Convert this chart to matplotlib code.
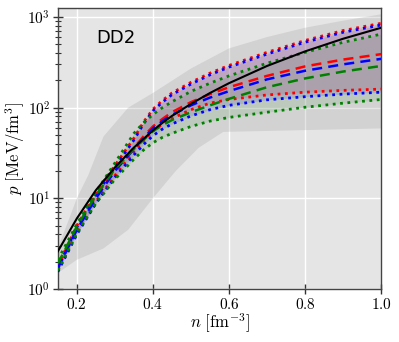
import numpy as np
import matplotlib
matplotlib.use("Agg")
import matplotlib.pyplot as plt
from matplotlib.ticker import LogLocator, NullFormatter, FixedLocator

plt.rcParams['mathtext.fontset'] = 'cm'
plt.rcParams['font.family'] = ['DejaVu Sans']

# ---- data ----
n = [0.15, 0.2, 0.25, 0.3, 0.35, 0.375, 0.4, 0.425, 0.45, 0.5, 0.55, 0.6, 0.7, 0.8, 0.9, 1.0]

dd2 = [2.6, 6.0, 12.3, 21.9, 36.3, 45, 56, 68, 81, 110, 145, 186, 288, 417, 575, 760]

red_up = [1.8, 5.0, 11.5, 23, 46, 69, 96, 120, 145, 190, 240, 292, 407, 550, 708, 851]
blue_up = [1.7, 4.8, 11.0, 22, 44, 66, 92, 115, 139, 182, 230, 280, 390, 527, 678, 815]
green_up = [2.1, 5.2, 11.7, 24.5, 52, 68, 84, 100, 116, 151, 186, 224, 309, 407, 525, 646]

red_med = [1.8, 4.7, 10.5, 21, 36, 48, 62, 75, 89, 115, 141, 168, 224, 285, 339, 389]
blue_med = [1.7, 4.5, 10.0, 20, 35, 46, 59, 71, 83, 106, 129, 152, 205, 255, 300, 345]
green_med = [1.9, 4.9, 10.8, 21, 35, 44, 55, 64, 73, 89, 106, 125, 168, 210, 250, 288]

red_lo = [1.6, 4.2, 9.2, 17.8, 33, 43, 55, 66, 76, 95, 112, 123, 138, 148, 155, 160]
blue_lo = [1.55, 4.0, 8.8, 17, 30, 39, 49, 58, 66, 81, 95, 106, 122, 132, 141, 148]
green_lo = [1.6, 4.1, 8.8, 16.2, 27, 34, 41, 47, 52, 62, 71, 78, 89, 101, 112, 123]

band_hi_n = [0.15, 0.2, 0.23, 0.27, 0.335, 0.4, 0.5, 0.6, 0.7, 0.8, 0.9, 1.0]
band_hi = [2.8, 10, 18, 48, 100, 145, 270, 450, 600, 760, 910, 1070]
band_lo_n = [0.15, 0.2, 0.27, 0.335, 0.4, 0.46, 0.52, 0.585, 1.0]
band_lo = [1.5, 2.1, 2.8, 4.5, 10, 20, 36, 54, 59]

xticks = [0.2, 0.4, 0.6, 0.8, 1.0]
xticklabels = ['$0.2$', '$0.4$', '$0.6$', '$0.8$', '$1.0$']
yticks = [1, 10, 100, 1000]
yticklabels = ['$10^0$', '$10^1$', '$10^2$', '$10^3$']

# ---- figure ----
fig = plt.figure(figsize=(3.99, 3.42), dpi=100)
ax = fig.add_axes([0.145, 0.155, 0.81, 0.822])
ax.set_facecolor('#e5e5e5')
ax.set_yscale('log')

# outer band
poly_x = list(band_hi_n) + list(band_lo_n)[::-1]
poly_y = list(band_hi) + list(band_lo)[::-1]
ax.fill(poly_x, poly_y, color='#9a9a9a', alpha=0.25, lw=0, zorder=1)

ax.fill_between(n, red_lo, red_up, color='red', alpha=0.11, lw=0, zorder=2)
ax.fill_between(n, blue_lo, blue_up, color='blue', alpha=0.11, lw=0, zorder=2)
ax.fill_between(n, green_lo, green_up, color='green', alpha=0.10, lw=0, zorder=2)

ax.plot(n, dd2, color='black', lw=1.5, zorder=5)
for c, up, med, lo in [('red', red_up, red_med, red_lo),
                       ('blue', blue_up, blue_med, blue_lo),
                       ('green', green_up, green_med, green_lo)]:
    ax.plot(n, up, color=c, lw=2.0, ls=':', zorder=4)
    ax.plot(n, lo, color=c, lw=2.0, ls=':', zorder=4)
    ax.plot(n, med, color=c, lw=1.8, ls=(0, (4, 2.5)), zorder=4)

ax.set_xlim(0.15, 1.0)
ax.set_ylim(1, 1260)

ax.xaxis.set_major_locator(FixedLocator(xticks))
ax.set_xticklabels(xticklabels, fontsize=11)
ax.yaxis.set_major_locator(FixedLocator(yticks))
ax.set_yticklabels(yticklabels, fontsize=11)
ax.yaxis.set_minor_locator(LogLocator(base=10, subs=np.arange(2, 10)))
ax.yaxis.set_minor_formatter(NullFormatter())

ax.tick_params(which='major', direction='inout', length=7, width=1, color='#333333', pad=2)
ax.tick_params(which='minor', direction='inout', length=5, width=0.8, color='#333333')
ax.tick_params(axis='x', which='minor', length=0)

ax.grid(True, which='major', color='white', lw=1.0, zorder=0)
ax.set_axisbelow(True)
for s in ax.spines.values():
    s.set_color('#444444')
    s.set_linewidth(1.0)

ax.set_xlabel(r'$n\ [\mathrm{fm}^{-3}]$', fontsize=12, labelpad=0)
ax.set_ylabel(r'$p\ [\mathrm{MeV/fm}^3]$', fontsize=12, labelpad=0)

ax.text(0.12, 0.893, 'DD2', transform=ax.transAxes, fontsize=13,
        va='center', ha='left', color='black')

fig.savefig('out.png', dpi=100)
